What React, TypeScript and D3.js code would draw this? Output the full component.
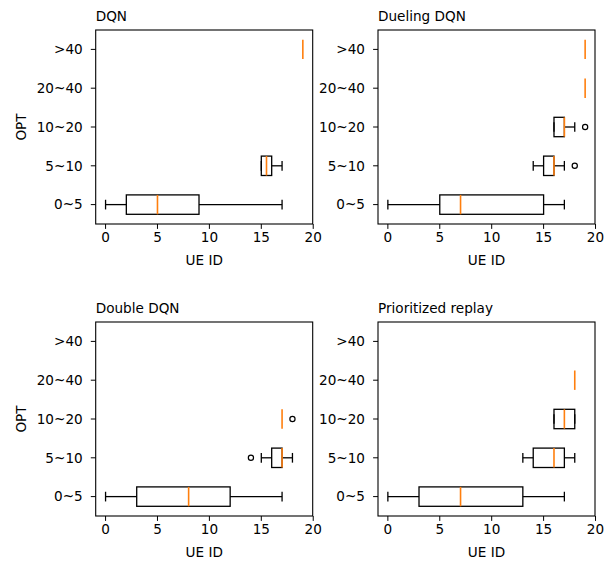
import React from 'react';
import * as d3 from 'd3';

// OPT groups, bottom to top
const categories = ['0~5', '5~10', '10~20', '20~40', '>40'];
const xTicks = [0, 5, 10, 15, 20];

// box stats per group: [whisker low, q1, median, q3, whisker high], null = empty group
type Stats = [number, number, number, number, number] | null;

const dqnStats: Stats[] = [[0, 2, 5, 9, 17], [15, 15, 15.5, 16, 17], null, null, [19, 19, 19, 19, 19]];
const dqnFliers: number[][] = [[], [], [], [], []];

const duelingStats: Stats[] = [[0, 5, 7, 15, 17], [14, 15, 16, 16, 17], [16, 16, 17, 17, 18], [19, 19, 19, 19, 19], [19, 19, 19, 19, 19]];
const duelingFliers: number[][] = [[], [18], [19], [], []];

const doubleStats: Stats[] = [[0, 3, 8, 12, 17], [15, 16, 17, 17, 18], [17, 17, 17, 17, 17], null, null];
const doubleFliers: number[][] = [[], [14], [18], [], []];

const prioStats: Stats[] = [[0, 3, 7, 13, 17], [13, 14, 16, 17, 18], [16, 16, 17, 18, 18], [18, 18, 18, 18, 18], null];
const prioFliers: number[][] = [[], [], [], [], []];

const panels = [
  { title: 'DQN', stats: dqnStats, fliers: dqnFliers, left: 95.7, top: 30, ylabel: true },
  { title: 'Dueling DQN', stats: duelingStats, fliers: duelingFliers, left: 378, top: 30, ylabel: false },
  { title: 'Double DQN', stats: doubleStats, fliers: doubleFliers, left: 95.7, top: 322, ylabel: true },
  { title: 'Prioritized replay', stats: prioStats, fliers: prioFliers, left: 378, top: 322, ylabel: false },
];

const W = 217;
const H = 194;
const font = 'DejaVu Sans, sans-serif';
const fs = 13.6;
const orange = '#ff7f0e';

function Panel({ p }: { p: typeof panels[number] }) {
  const x = d3.scaleLinear().domain([-0.95, 19.95]).range([0, W]);
  const y = d3.scaleLinear().domain([0.5, 5.5]).range([H, 0]);
  const bw = (y(1) - y(2)) * 0.5;
  const lw = 1.3;
  return (
    <g transform={`translate(${p.left},${p.top})`} fontFamily={font} fontSize={fs}>
      <text x={0} y={-9} fill="#000">{p.title}</text>
      {p.stats.map((s, i) => {
        if (!s) return null;
        const cy = y(i + 1);
        const [lo, q1, med, q3, hi] = s;
        const flat = lo === hi;
        return (
          <g key={i} stroke="#000" strokeWidth={lw} fill="none">
            {!flat && (
              <>
                <rect x={x(q1)} y={cy - bw / 2} width={x(q3) - x(q1)} height={bw} />
                <line x1={x(lo)} x2={x(q1)} y1={cy} y2={cy} />
                <line x1={x(q3)} x2={x(hi)} y1={cy} y2={cy} />
                <line x1={x(lo)} x2={x(lo)} y1={cy - bw / 4} y2={cy + bw / 4} />
                <line x1={x(hi)} x2={x(hi)} y1={cy - bw / 4} y2={cy + bw / 4} />
              </>
            )}
            <line x1={x(med)} x2={x(med)} y1={cy - bw / 2} y2={cy + bw / 2} stroke={orange} strokeWidth={1.6} />
            {p.fliers[i].map((f, j) => (
              <circle key={j} cx={x(f)} cy={cy} r={2.6} strokeWidth={1.2} />
            ))}
          </g>
        );
      })}
      <rect x={0} y={0} width={W} height={H} fill="none" stroke="#000" strokeWidth={1.1} />
      {xTicks.map((t) => (
        <g key={t} transform={`translate(${x(t)},${H})`}>
          <line y1={0} y2={4.9} stroke="#000" strokeWidth={1} />
          <text y={18} textAnchor="middle" fill="#000">{t}</text>
        </g>
      ))}
      {categories.map((c, i) => (
        <g key={c} transform={`translate(0,${y(i + 1)})`}>
          <line x1={-4.9} x2={0} stroke="#000" strokeWidth={1} />
          <text x={-13} dy="0.35em" textAnchor="end" fill="#000">{c}</text>
        </g>
      ))}
      <text x={W / 2} y={H + 41} textAnchor="middle" fill="#000">UE ID</text>
      {p.ylabel && (
        <text transform={`translate(${-70},${H / 2}) rotate(-90)`} textAnchor="middle" fill="#000">OPT</text>
      )}
    </g>
  );
}

export default function App() {
  return (
    <svg width={614} height={565} style={{ position: 'absolute', left: 0, top: 0, background: '#fff' }}>
      <rect width={614} height={565} fill="#fff" />
      {panels.map((p) => (
        <Panel key={p.title} p={p} />
      ))}
    </svg>
  );
}
